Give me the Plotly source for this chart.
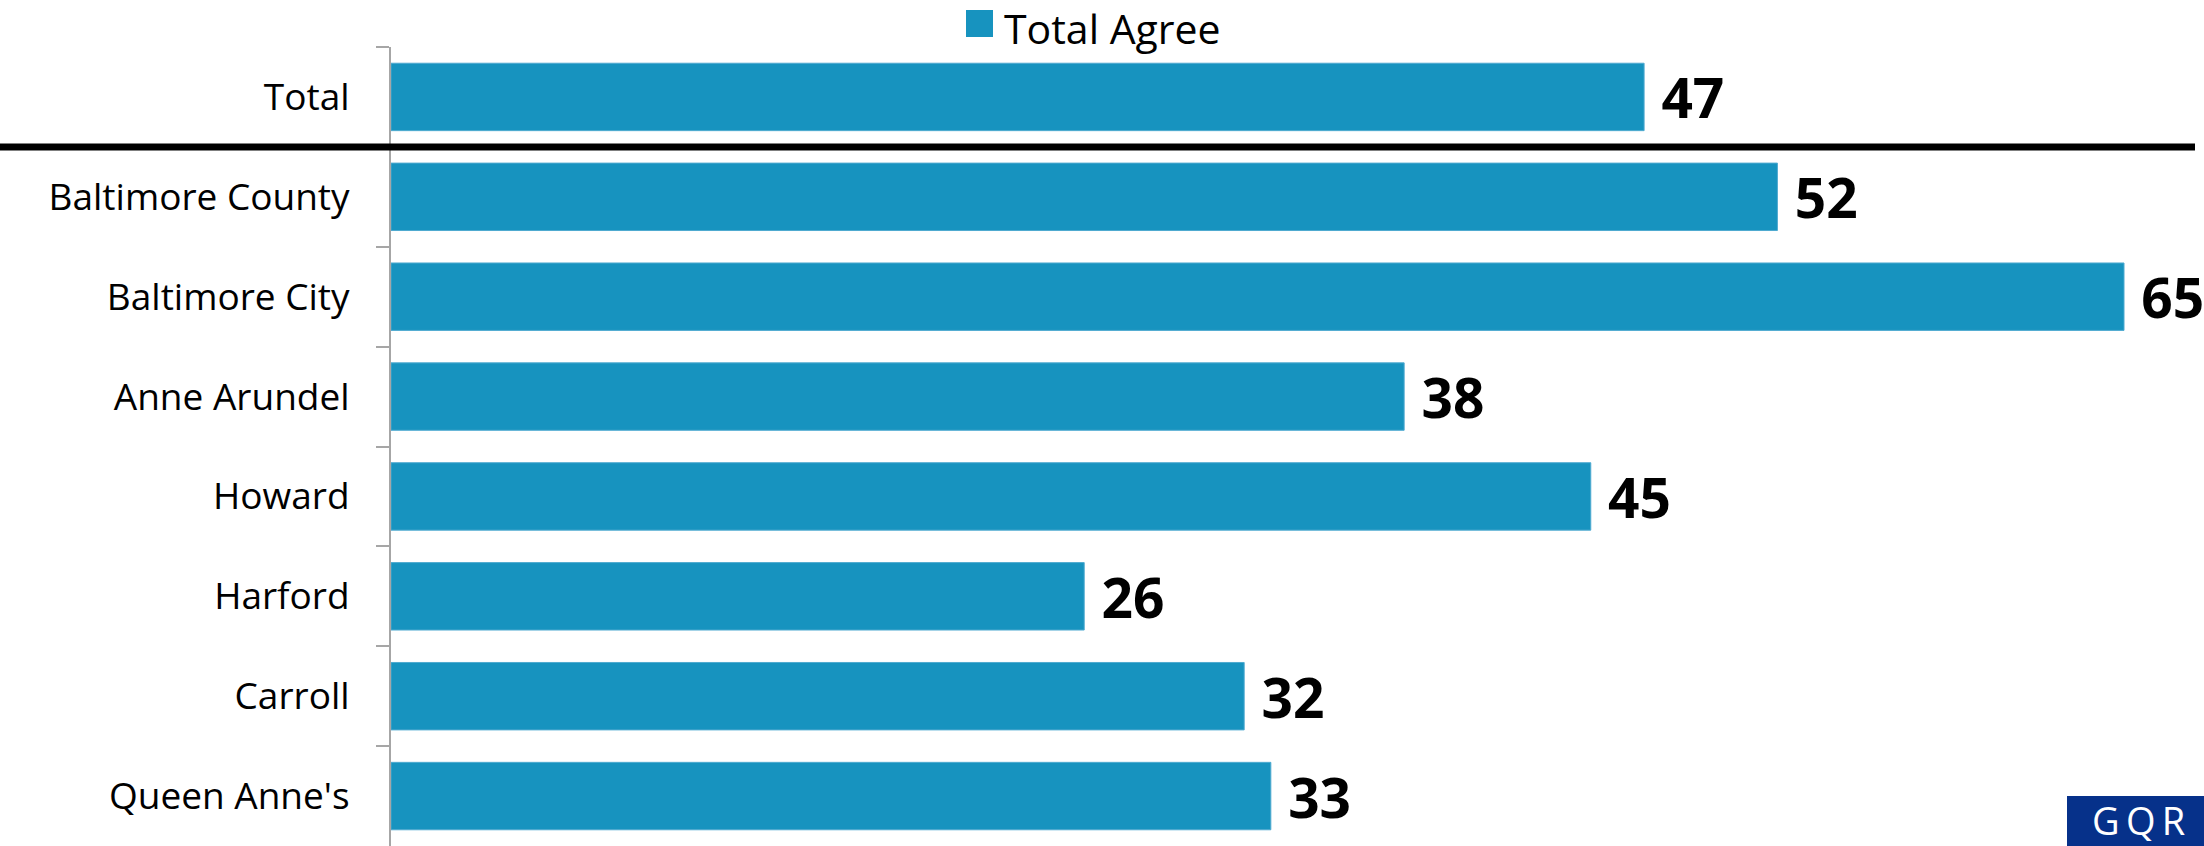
import plotly.graph_objects as go

categories = ["Total", "Baltimore County", "Baltimore City", "Anne Arundel",
              "Howard", "Harford", "Carroll", "Queen Anne's"]
total_agree = [47, 52, 65, 38, 45, 26, 32, 33]

bar_color = "#1793BF"
W, H = 2204, 846
left, top = 391, 47
plot_w = W - left
plot_h = H - top


def px_x(x):
    return (x - left) / plot_w


def px_y(y):
    return (H - y) / plot_h


fig = go.Figure()
fig.add_trace(go.Bar(
    y=categories,
    x=total_agree,
    orientation="h",
    name="Total Agree",
    showlegend=False,
    marker=dict(color=bar_color, line=dict(color="#4FAAD0", width=1)),
    text=total_agree,
    texttemplate=" %{text}",
    textposition="outside",
    constraintext="none",
    textfont=dict(family="Open Sans", size=55, color="black", weight="bold"),
    cliponaxis=False,
))

# legend: swatch + label
fig.add_shape(type="rect", xref="paper", yref="paper",
              x0=px_x(966), x1=px_x(993), y0=px_y(37), y1=px_y(10),
              fillcolor=bar_color, line=dict(width=0))
fig.add_annotation(xref="paper", yref="paper", x=px_x(1003), y=px_y(28),
                   xanchor="left", yanchor="middle", text="Total Agree", showarrow=False,
                   borderpad=0,
                   font=dict(family="Open Sans", size=41, color="black"))

# separator under the Total row
fig.add_shape(type="line", xref="paper", yref="y",
              x0=px_x(0), x1=px_x(2195), y0=0.5, y1=0.5,
              line=dict(color="black", width=7))

# GQR logo box
fig.add_shape(type="rect", xref="paper", yref="paper",
              x0=px_x(2067), x1=1, y0=0, y1=px_y(796),
              fillcolor="#06318A", line=dict(width=0), layer="above")
fig.add_annotation(xref="paper", yref="paper", x=px_x(2138), y=px_y(820),
                   xanchor="center", yanchor="middle",
                   text="G\u2009Q\u2009R", showarrow=False,
                   borderpad=0,
                   font=dict(family="Open Sans", size=38, color="white"))

fig.update_layout(
    width=W, height=H,
    margin=dict(l=left, r=0, t=top, b=0),
    plot_bgcolor="white", paper_bgcolor="white",
    bargap=0.325,
    showlegend=False,
    font=dict(family="Open Sans", color="black"),
)
fig.update_xaxes(range=[0, 68], visible=False)
fig.update_yaxes(categoryorder="array", categoryarray=categories, range=[7.5, -0.5],
                 automargin=False,
                 showline=True, linecolor="#A6A6A6", linewidth=2,
                 ticks="outside", ticklen=13, tickcolor="#A6A6A6", tickwidth=2,
                 tickson="boundaries", ticklabelstandoff=32,
                 tickfont=dict(family="Open Sans", size=37, color="black"),
                 showgrid=False)

fig.write_html("out.html", config={"displayModeBar": False},
               post_script="document.body.style.margin='0';")
